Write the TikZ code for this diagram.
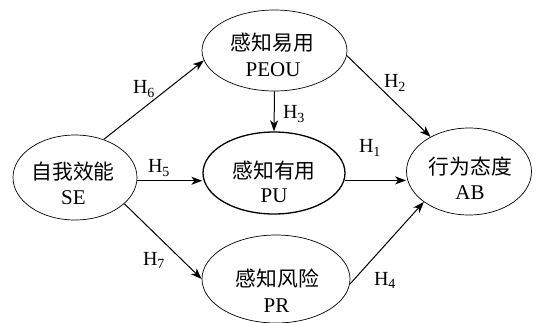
\documentclass[tikz,border=0pt]{standalone}
\usepackage{fontspec}
\setmainfont{Liberation Serif}
\newfontfamily\cjk{Noto Sans CJK SC}
\usetikzlibrary{arrows.meta,shapes.geometric}
\tikzset{
  ell/.style={draw, ellipse, inner sep=0pt, line width=0.7pt},
  zh/.style={inner sep=0pt, font=\cjk\fontsize{20.8}{24}\selectfont},
  en/.style={inner sep=0pt, font=\fontsize{21}{24}\selectfont},
  hl/.style={inner sep=0pt, font=\fontsize{20}{24}\selectfont},
  arr/.style={line width=1pt, -{Stealth[length=11pt,width=8pt,inset=3pt]}}
}
\begin{document}
\begin{tikzpicture}[x=1pt,y=-1pt]
\useasboundingbox (0,0) rectangle (537,322);
% ellipses
\node[ell, minimum width=145pt, minimum height=81pt] (peou) at (274.5,50.5) {};
\node[ell, minimum width=124pt, minimum height=85pt] (se) at (75,177.5) {};
\node[ell, line width=1.3pt, minimum width=142pt, minimum height=82pt] (pu) at (274,173) {};
\node[ell, minimum width=125pt, minimum height=87pt] (ab) at (469,171.5) {};
\node[ell, minimum width=148pt, minimum height=88pt] (pr) at (276,279) {};
% texts
\node[zh] (peouZ) at (272.5,43) {感知易用};
\node[en] (peouE) at (273,70) {PEOU};
\node[zh] (seZ) at (73,172) {自我效能};
\node[en] (seE) at (73.5,197.5) {SE};
\node[zh] (puZ) at (274,171) {感知有用};
\node[en] (puE) at (274,196) {PU};
\node[zh] (abZ) at (470.5,166.5) {行为态度};
\node[en] (abE) at (470,192.5) {AB};
\node[zh] (prZ) at (277.5,278.5) {感知风险};
\node[en] (prE) at (276.5,305.5) {PR};
% arrows
\draw[arr] (se.53) -- (peou.188);
\draw[arr] (peou.-4) -- (ab.138);
\draw[arr] (peou.south) -- (pu.north);
\draw[arr] (se.-3) -- (se.-3 -| pu.west);
\draw[arr] (pu.-6) -- (pu.-6 -| ab.west);
\draw[arr] (se.-28) -- (pr.180);
\draw[arr] (pr.-4) -- (ab.214);
% labels
\node[hl] (h6) at (144,89) {H\textsubscript{6}};
\node[hl] (h2) at (395,83) {H\textsubscript{2}};
\node[hl] (h3) at (294,114) {H\textsubscript{3}};
\node[hl] (h1) at (370,148) {H\textsubscript{1}};
\node[hl] (h5) at (159,168) {H\textsubscript{5}};
\node[hl] (h7) at (154,260) {H\textsubscript{7}};
\node[hl] (h4) at (385,280) {H\textsubscript{4}};
\end{tikzpicture}
\end{document}
